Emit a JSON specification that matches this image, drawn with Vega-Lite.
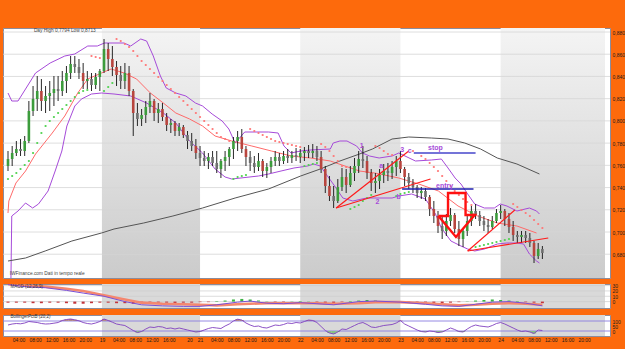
{
"$schema":"https://vega.github.io/schema/vega-lite/v6.json",
"background":"#fd6a0c",
"padding":{"left":2,"top":27,"right":0,"bottom":6},
"spacing":4,
"config":{"view":{"stroke":"#8c8c9c","strokeWidth":1,"fill":"#ffffff"},"font":"Liberation Sans","axis":{"labelFontSize":5,"labelColor":"#202020","ticks":false,"domain":false,"grid":false,"labelPadding":2,"labelOverlap":false,"labelFlush":false,"labelBound":false,"tickCount":200}},
"datasets":{
"bands":[{"a":22.5,"b":46},{"a":70,"b":94},{"a":118,"b":143}],
"pgrid":[{"v":0.68},{"v":0.70},{"v":0.72},{"v":0.74},{"v":0.76},{"v":0.78},{"v":0.80},{"v":0.82},{"v":0.84},{"v":0.86},{"v":0.88}],
"candles":[
{"t":0,"o":0.7594,"h":0.7729,"l":0.7549,"c":0.7657,"s":0.7477},
{"t":1,"o":0.7657,"h":0.7774,"l":0.7594,"c":0.7711,"s":0.7504},
{"t":2,"o":0.7711,"h":0.7819,"l":0.7684,"c":0.7747,"s":0.7531},
{"t":3,"o":0.7747,"h":0.7837,"l":0.7684,"c":0.7729,"s":0.7567},
{"t":4,"o":0.7729,"h":0.7864,"l":0.7684,"c":0.7819,"s":0.7603},
{"t":5,"o":0.7819,"h":0.8179,"l":0.7801,"c":0.8089,"s":0.7639},
{"t":6,"o":0.8089,"h":0.8314,"l":0.8044,"c":0.8197,"s":0.7711},
{"t":7,"o":0.8197,"h":0.8404,"l":0.8089,"c":0.8269,"s":0.7801},
{"t":8,"o":0.8269,"h":0.8377,"l":0.8089,"c":0.8179,"s":0.7891},
{"t":9,"o":0.8179,"h":0.8314,"l":0.8071,"c":0.8224,"s":0.7954},
{"t":10,"o":0.8224,"h":0.8359,"l":0.8089,"c":0.8251,"s":0.7999},
{"t":11,"o":0.8251,"h":0.8404,"l":0.8134,"c":0.8287,"s":0.8035},
{"t":12,"o":0.8287,"h":0.8404,"l":0.8179,"c":0.8269,"s":0.8071},
{"t":13,"o":0.8269,"h":0.8449,"l":0.8224,"c":0.8359,"s":0.8107},
{"t":14,"o":0.8359,"h":0.8494,"l":0.8251,"c":0.8431,"s":0.8143},
{"t":15,"o":0.8431,"h":0.8584,"l":0.8377,"c":0.8512,"s":0.8179},
{"t":16,"o":0.8512,"h":0.8584,"l":0.8431,"c":0.8485,"s":0.8215},
{"t":17,"o":0.8485,"h":0.8557,"l":0.8377,"c":0.8431,"s":0.8251},
{"t":18,"o":0.8431,"h":0.8521,"l":0.8287,"c":0.8359,"s":0.8269},
{"t":19,"o":0.8359,"h":0.8449,"l":0.8287,"c":0.8377,"s":0.8278},
{"t":20,"o":0.8377,"h":0.8431,"l":0.8269,"c":0.8323,"s":0.8584},
{"t":21,"o":0.8323,"h":0.8431,"l":0.8287,"c":0.8395,"s":0.8575},
{"t":22,"o":0.8395,"h":0.8467,"l":0.8269,"c":0.8449,"s":0.8566},
{"t":23,"o":0.8449,"h":0.8737,"l":0.8431,"c":0.8647,"s":0.8269},
{"t":24,"o":0.8647,"h":0.8701,"l":0.8449,"c":0.8557,"s":0.8305},
{"t":25,"o":0.8557,"h":0.8674,"l":0.8404,"c":0.8485,"s":0.8341},
{"t":26,"o":0.8485,"h":0.8539,"l":0.8314,"c":0.8413,"s":0.8737},
{"t":27,"o":0.8413,"h":0.8494,"l":0.8287,"c":0.8359,"s":0.8719},
{"t":28,"o":0.8359,"h":0.8521,"l":0.8287,"c":0.8431,"s":0.8692},
{"t":29,"o":0.8431,"h":0.8494,"l":0.8224,"c":0.8269,"s":0.8665},
{"t":30,"o":0.8269,"h":0.8287,"l":0.7864,"c":0.8071,"s":0.8629},
{"t":31,"o":0.8071,"h":0.8161,"l":0.7954,"c":0.8017,"s":0.8584},
{"t":32,"o":0.8017,"h":0.8107,"l":0.7954,"c":0.8053,"s":0.8539},
{"t":33,"o":0.8053,"h":0.8179,"l":0.7981,"c":0.8125,"s":0.8503},
{"t":34,"o":0.8125,"h":0.8251,"l":0.8071,"c":0.8179,"s":0.8467},
{"t":35,"o":0.8179,"h":0.8197,"l":0.7999,"c":0.8071,"s":0.8431},
{"t":36,"o":0.8071,"h":0.8161,"l":0.7981,"c":0.8107,"s":0.8395},
{"t":37,"o":0.8107,"h":0.8161,"l":0.7999,"c":0.8035,"s":0.8359},
{"t":38,"o":0.8035,"h":0.8071,"l":0.7909,"c":0.7963,"s":0.8323},
{"t":39,"o":0.7963,"h":0.8017,"l":0.7891,"c":0.7981,"s":0.8287},
{"t":40,"o":0.7981,"h":0.7999,"l":0.7864,"c":0.7909,"s":0.8251},
{"t":41,"o":0.7909,"h":0.7981,"l":0.7864,"c":0.7945,"s":0.8215},
{"t":42,"o":0.7945,"h":0.7963,"l":0.7846,"c":0.7873,"s":0.8179},
{"t":43,"o":0.7873,"h":0.7909,"l":0.7747,"c":0.7819,"s":0.8143},
{"t":44,"o":0.7819,"h":0.7891,"l":0.7729,"c":0.7774,"s":0.8107},
{"t":45,"o":0.7774,"h":0.7837,"l":0.7657,"c":0.7711,"s":0.8071},
{"t":46,"o":0.7711,"h":0.7774,"l":0.7594,"c":0.7666,"s":0.8035},
{"t":47,"o":0.7666,"h":0.7729,"l":0.7594,"c":0.7639,"s":0.7999},
{"t":48,"o":0.7639,"h":0.7711,"l":0.7567,"c":0.7675,"s":0.7963},
{"t":49,"o":0.7675,"h":0.7729,"l":0.7594,"c":0.7621,"s":0.7927},
{"t":50,"o":0.7621,"h":0.7729,"l":0.7531,"c":0.7567,"s":0.7891},
{"t":51,"o":0.7567,"h":0.7657,"l":0.7486,"c":0.7639,"s":0.7855},
{"t":52,"o":0.7639,"h":0.7729,"l":0.7549,"c":0.7675,"s":0.7837},
{"t":53,"o":0.7675,"h":0.7765,"l":0.7594,"c":0.7747,"s":0.7819},
{"t":54,"o":0.7747,"h":0.7855,"l":0.7657,"c":0.7819,"s":0.7477},
{"t":55,"o":0.7819,"h":0.7909,"l":0.7729,"c":0.7855,"s":0.7495},
{"t":56,"o":0.7855,"h":0.7927,"l":0.7711,"c":0.7747,"s":0.7504},
{"t":57,"o":0.7747,"h":0.7774,"l":0.7594,"c":0.7675,"s":0.7513},
{"t":58,"o":0.7675,"h":0.7729,"l":0.7549,"c":0.7621,"s":0.7927},
{"t":59,"o":0.7621,"h":0.7684,"l":0.7531,"c":0.7585,"s":0.7909},
{"t":60,"o":0.7585,"h":0.7711,"l":0.7549,"c":0.7639,"s":0.7891},
{"t":61,"o":0.7639,"h":0.7657,"l":0.7495,"c":0.7549,"s":0.7873},
{"t":62,"o":0.7549,"h":0.7621,"l":0.7486,"c":0.7585,"s":0.7855},
{"t":63,"o":0.7585,"h":0.7675,"l":0.7531,"c":0.7639,"s":0.7837},
{"t":64,"o":0.7639,"h":0.7729,"l":0.7594,"c":0.7675,"s":0.7819},
{"t":65,"o":0.7675,"h":0.7711,"l":0.7594,"c":0.7639,"s":0.7810},
{"t":66,"o":0.7639,"h":0.7729,"l":0.7612,"c":0.7684,"s":0.7801},
{"t":67,"o":0.7684,"h":0.7747,"l":0.7621,"c":0.7666,"s":0.7792},
{"t":68,"o":0.7666,"h":0.7729,"l":0.7621,"c":0.7693,"s":0.7783},
{"t":69,"o":0.7693,"h":0.7756,"l":0.7639,"c":0.7675,"s":0.7774},
{"t":70,"o":0.7675,"h":0.7747,"l":0.7621,"c":0.7711,"s":0.7765},
{"t":71,"o":0.7711,"h":0.7765,"l":0.7639,"c":0.7729,"s":0.7594},
{"t":72,"o":0.7729,"h":0.7783,"l":0.7666,"c":0.7711,"s":0.7603},
{"t":73,"o":0.7711,"h":0.7792,"l":0.7666,"c":0.7729,"s":0.7612},
{"t":74,"o":0.7729,"h":0.7774,"l":0.7639,"c":0.7675,"s":0.7621},
{"t":75,"o":0.7675,"h":0.7729,"l":0.7531,"c":0.7567,"s":0.7792},
{"t":76,"o":0.7567,"h":0.7594,"l":0.7351,"c":0.7414,"s":0.7765},
{"t":77,"o":0.7414,"h":0.7504,"l":0.7279,"c":0.7324,"s":0.7729},
{"t":78,"o":0.7324,"h":0.7414,"l":0.7216,"c":0.7279,"s":0.7684},
{"t":79,"o":0.7279,"h":0.7477,"l":0.7261,"c":0.7405,"s":0.7639},
{"t":80,"o":0.7405,"h":0.7576,"l":0.7369,"c":0.7495,"s":0.7594},
{"t":81,"o":0.7495,"h":0.7567,"l":0.7351,"c":0.7423,"s":0.7585},
{"t":82,"o":0.7423,"h":0.7594,"l":0.7405,"c":0.7531,"s":0.7207},
{"t":83,"o":0.7531,"h":0.7666,"l":0.7459,"c":0.7594,"s":0.7225},
{"t":84,"o":0.7594,"h":0.7729,"l":0.7531,"c":0.7657,"s":0.7243},
{"t":85,"o":0.7657,"h":0.7774,"l":0.7576,"c":0.7639,"s":0.7279},
{"t":86,"o":0.7639,"h":0.7684,"l":0.7477,"c":0.7531,"s":0.7306},
{"t":87,"o":0.7531,"h":0.7567,"l":0.7369,"c":0.7441,"s":0.7333},
{"t":88,"o":0.7441,"h":0.7531,"l":0.7351,"c":0.7459,"s":0.7774},
{"t":89,"o":0.7459,"h":0.7567,"l":0.7387,"c":0.7513,"s":0.7756},
{"t":90,"o":0.7513,"h":0.7612,"l":0.7441,"c":0.7549,"s":0.7729},
{"t":91,"o":0.7549,"h":0.7621,"l":0.7459,"c":0.7531,"s":0.7702},
{"t":92,"o":0.7531,"h":0.7639,"l":0.7477,"c":0.7585,"s":0.7693},
{"t":93,"o":0.7585,"h":0.7684,"l":0.7504,"c":0.7639,"s":0.7324},
{"t":94,"o":0.7639,"h":0.7729,"l":0.7531,"c":0.7567,"s":0.7342},
{"t":95,"o":0.7567,"h":0.7585,"l":0.7414,"c":0.7495,"s":0.7351},
{"t":96,"o":0.7495,"h":0.7531,"l":0.7387,"c":0.7441,"s":0.7360},
{"t":97,"o":0.7441,"h":0.7477,"l":0.7351,"c":0.7405,"s":0.7729},
{"t":98,"o":0.7405,"h":0.7423,"l":0.7306,"c":0.7351,"s":0.7711},
{"t":99,"o":0.7351,"h":0.7405,"l":0.7297,"c":0.7369,"s":0.7684},
{"t":100,"o":0.7369,"h":0.7396,"l":0.7279,"c":0.7315,"s":0.7657},
{"t":101,"o":0.7315,"h":0.7333,"l":0.7144,"c":0.7207,"s":0.7621},
{"t":102,"o":0.7207,"h":0.7279,"l":0.7081,"c":0.7144,"s":0.7585},
{"t":103,"o":0.7144,"h":0.7189,"l":0.6991,"c":0.7054,"s":0.7549},
{"t":104,"o":0.7054,"h":0.7144,"l":0.6937,"c":0.7009,"s":0.7504},
{"t":105,"o":0.7009,"h":0.7162,"l":0.6964,"c":0.7099,"s":0.7459},
{"t":106,"o":0.7099,"h":0.7216,"l":0.7054,"c":0.7153,"s":0.7414},
{"t":107,"o":0.7153,"h":0.7171,"l":0.6991,"c":0.7027,"s":0.7369},
{"t":108,"o":0.7027,"h":0.7099,"l":0.6874,"c":0.6937,"s":0.7333},
{"t":109,"o":0.6937,"h":0.7027,"l":0.6865,"c":0.7009,"s":0.7297},
{"t":110,"o":0.7009,"h":0.7144,"l":0.6964,"c":0.7099,"s":0.7270},
{"t":111,"o":0.7099,"h":0.7234,"l":0.7054,"c":0.7189,"s":0.7243},
{"t":112,"o":0.7189,"h":0.7252,"l":0.7117,"c":0.7153,"s":0.6865},
{"t":113,"o":0.7153,"h":0.7189,"l":0.7054,"c":0.7099,"s":0.6874},
{"t":114,"o":0.7099,"h":0.7144,"l":0.7009,"c":0.7063,"s":0.6883},
{"t":115,"o":0.7063,"h":0.7117,"l":0.6991,"c":0.7045,"s":0.6892},
{"t":116,"o":0.7045,"h":0.7144,"l":0.7027,"c":0.7099,"s":0.6901},
{"t":117,"o":0.7099,"h":0.7207,"l":0.7081,"c":0.7171,"s":0.6910},
{"t":118,"o":0.7171,"h":0.7243,"l":0.7117,"c":0.7189,"s":0.6919},
{"t":119,"o":0.7189,"h":0.7207,"l":0.7054,"c":0.7117,"s":0.6928},
{"t":120,"o":0.7117,"h":0.7171,"l":0.6991,"c":0.7045,"s":0.6937},
{"t":121,"o":0.7045,"h":0.7099,"l":0.6919,"c":0.6973,"s":0.7252},
{"t":122,"o":0.6973,"h":0.7009,"l":0.6901,"c":0.6955,"s":0.7225},
{"t":123,"o":0.6955,"h":0.7009,"l":0.6901,"c":0.6973,"s":0.7198},
{"t":124,"o":0.6973,"h":0.7009,"l":0.6901,"c":0.6946,"s":0.7171},
{"t":125,"o":0.6946,"h":0.6991,"l":0.6865,"c":0.6901,"s":0.7144},
{"t":126,"o":0.6901,"h":0.6919,"l":0.6721,"c":0.6784,"s":0.7108},
{"t":127,"o":0.6784,"h":0.6901,"l":0.6757,"c":0.6847,"s":0.7072},
{"t":128,"o":0.6847,"h":0.6874,"l":0.6757,"c":0.6811,"s":0.7036}
],
"lines":[
{"s":"u","t":0,"v":0.8251},{"s":"u","t":0.9,"v":0.8179},{"s":"u","t":2.4,"v":0.8179},{"s":"u","t":4.2,"v":0.8287},{"s":"u","t":6.6,"v":0.8431},{"s":"u","t":10.1,"v":0.8521},{"s":"u","t":13.6,"v":0.8584},{"s":"u","t":16,"v":0.8602},{"s":"u","t":19.1,"v":0.8674},{"s":"u","t":21.4,"v":0.8674},{"s":"u","t":23.1,"v":0.8701},{"s":"u","t":27.8,"v":0.8701},{"s":"u","t":29.4,"v":0.8674},{"s":"u","t":31.8,"v":0.8737},{"s":"u","t":33.2,"v":0.8719},{"s":"u","t":34.8,"v":0.8584},{"s":"u","t":36.5,"v":0.8404},{"s":"u","t":37.9,"v":0.8296},{"s":"u","t":40.2,"v":0.8251},{"s":"u","t":42.6,"v":0.8224},{"s":"u","t":44.9,"v":0.8161},{"s":"u","t":46.6,"v":0.8134},{"s":"u","t":48.9,"v":0.8062},{"s":"u","t":51.3,"v":0.7999},{"s":"u","t":52.9,"v":0.7927},{"s":"u","t":54.4,"v":0.7801},{"s":"u","t":56.7,"v":0.79},{"s":"u","t":62.4,"v":0.79},{"s":"u","t":64.7,"v":0.7891},{"s":"u","t":66.1,"v":0.7774},{"s":"u","t":67.8,"v":0.7711},{"s":"u","t":70.1,"v":0.7729},{"s":"u","t":72.5,"v":0.7738},{"s":"u","t":77.2,"v":0.7747},{"s":"u","t":77.9,"v":0.7801},{"s":"u","t":79.5,"v":0.7819},{"s":"u","t":81.2,"v":0.7819},{"s":"u","t":83.5,"v":0.7774},{"s":"u","t":84.9,"v":0.7711},{"s":"u","t":86.6,"v":0.7684},{"s":"u","t":88.9,"v":0.7666},{"s":"u","t":92,"v":0.7684},{"s":"u","t":93.6,"v":0.7711},{"s":"u","t":97.6,"v":0.7639},{"s":"u","t":101.4,"v":0.7648},{"s":"u","t":103.8,"v":0.7657},{"s":"u","t":105.4,"v":0.7576},{"s":"u","t":107.1,"v":0.7486},{"s":"u","t":108.5,"v":0.7432},{"s":"u","t":110.1,"v":0.7342},{"s":"u","t":111.8,"v":0.7252},{"s":"u","t":114.1,"v":0.7216},{"s":"u","t":116.5,"v":0.7216},{"s":"u","t":117.9,"v":0.7252},{"s":"u","t":119.5,"v":0.7234},{"s":"u","t":121.9,"v":0.7189},{"s":"u","t":124.9,"v":0.7216},{"s":"u","t":126.6,"v":0.7189},{"s":"u","t":127.3,"v":0.7162},
{"s":"l","t":0.7,"v":0.6577},{"s":"l","t":0.9,"v":0.7144},{"s":"l","t":2.4,"v":0.7189},{"s":"l","t":4.2,"v":0.7261},{"s":"l","t":5.9,"v":0.7216},{"s":"l","t":7.3,"v":0.7252},{"s":"l","t":9.6,"v":0.7369},{"s":"l","t":11.3,"v":0.7549},{"s":"l","t":12.9,"v":0.7729},{"s":"l","t":14.1,"v":0.7954},{"s":"l","t":16,"v":0.8134},{"s":"l","t":17.6,"v":0.8197},{"s":"l","t":20,"v":0.8242},{"s":"l","t":22.4,"v":0.8251},{"s":"l","t":25.4,"v":0.8242},{"s":"l","t":29.4,"v":0.8224},{"s":"l","t":33.2,"v":0.8161},{"s":"l","t":37.2,"v":0.8071},{"s":"l","t":40.2,"v":0.7981},{"s":"l","t":43.5,"v":0.7819},{"s":"l","t":46.6,"v":0.7711},{"s":"l","t":49.6,"v":0.7567},{"s":"l","t":52,"v":0.7495},{"s":"l","t":53.6,"v":0.7477},{"s":"l","t":60,"v":0.7504},{"s":"l","t":62.4,"v":0.7522},{"s":"l","t":65.4,"v":0.7549},{"s":"l","t":68.5,"v":0.7576},{"s":"l","t":71.8,"v":0.7594},{"s":"l","t":73.2,"v":0.7612},{"s":"l","t":74.8,"v":0.7594},{"s":"l","t":77.9,"v":0.7432},{"s":"l","t":80.2,"v":0.7306},{"s":"l","t":82.6,"v":0.7279},{"s":"l","t":85.9,"v":0.7306},{"s":"l","t":88.9,"v":0.7306},{"s":"l","t":92,"v":0.7306},{"s":"l","t":93.6,"v":0.7324},{"s":"l","t":96.7,"v":0.7342},{"s":"l","t":100,"v":0.7297},{"s":"l","t":102.4,"v":0.7162},{"s":"l","t":103.8,"v":0.7036},{"s":"l","t":106.1,"v":0.6919},{"s":"l","t":108.5,"v":0.6874},{"s":"l","t":110.1,"v":0.6847},{"s":"l","t":111.8,"v":0.6829},{"s":"l","t":114.1,"v":0.6847},{"s":"l","t":117.2,"v":0.6892},{"s":"l","t":119.5,"v":0.6901},{"s":"l","t":121.9,"v":0.6901},{"s":"l","t":123.5,"v":0.6892},{"s":"l","t":124.9,"v":0.6802},{"s":"l","t":126.6,"v":0.6739},{"s":"l","t":127.3,"v":0.6721},
{"s":"m","t":0,"v":0.7171},{"s":"m","t":0.2,"v":0.7279},{"s":"m","t":1.9,"v":0.7441},{"s":"m","t":4.2,"v":0.7549},{"s":"m","t":6.6,"v":0.7702},{"s":"m","t":10.6,"v":0.7891},{"s":"m","t":13.6,"v":0.8044},{"s":"m","t":16.7,"v":0.8251},{"s":"m","t":19.1,"v":0.8377},{"s":"m","t":22.4,"v":0.8431},{"s":"m","t":24.7,"v":0.8467},{"s":"m","t":27.8,"v":0.8431},{"s":"m","t":30.8,"v":0.8377},{"s":"m","t":34.1,"v":0.8251},{"s":"m","t":37.2,"v":0.8161},{"s":"m","t":40.2,"v":0.8071},{"s":"m","t":43.5,"v":0.8017},{"s":"m","t":46.6,"v":0.7954},{"s":"m","t":49.6,"v":0.7864},{"s":"m","t":53.6,"v":0.7819},{"s":"m","t":58.4,"v":0.7774},{"s":"m","t":63.1,"v":0.7729},{"s":"m","t":67.8,"v":0.7684},{"s":"m","t":72.5,"v":0.7666},{"s":"m","t":77.2,"v":0.7639},{"s":"m","t":80.7,"v":0.7594},{"s":"m","t":84.2,"v":0.7549},{"s":"m","t":87.8,"v":0.7531},{"s":"m","t":91.3,"v":0.7504},{"s":"m","t":93.6,"v":0.7486},{"s":"m","t":98.4,"v":0.7432},{"s":"m","t":103.1,"v":0.7369},{"s":"m","t":107.8,"v":0.7234},{"s":"m","t":112.5,"v":0.7144},{"s":"m","t":117.2,"v":0.7081},{"s":"m","t":121.9,"v":0.7054},{"s":"m","t":126.6,"v":0.6991},
{"s":"a","t":0,"v":0.6739},{"s":"a","t":4.2,"v":0.6766},{"s":"a","t":8.9,"v":0.6829},{"s":"a","t":15.3,"v":0.6919},{"s":"a","t":22.4,"v":0.6991},{"s":"a","t":25.4,"v":0.7027},{"s":"a","t":32.5,"v":0.7081},{"s":"a","t":39.5,"v":0.7144},{"s":"a","t":46.6,"v":0.7216},{"s":"a","t":54.4,"v":0.7306},{"s":"a","t":62.4,"v":0.7387},{"s":"a","t":70.1,"v":0.7504},{"s":"a","t":74.8,"v":0.7567},{"s":"a","t":79.5,"v":0.7639},{"s":"a","t":84.2,"v":0.7702},{"s":"a","t":87.3,"v":0.7747},{"s":"a","t":92,"v":0.7837},{"s":"a","t":96,"v":0.7855},{"s":"a","t":101.4,"v":0.7846},{"s":"a","t":105.4,"v":0.7837},{"s":"a","t":109.4,"v":0.7801},{"s":"a","t":113.2,"v":0.7747},{"s":"a","t":117.2,"v":0.7666},{"s":"a","t":121.9,"v":0.7612},{"s":"a","t":127.3,"v":0.7522}
],
"annot":[
{"g":"w1","k":0,"t":78.6,"p":0.7216},{"g":"w1","k":1,"t":96,"p":0.7729},
{"g":"w2","k":0,"t":78.6,"p":0.7216},{"g":"w2","k":1,"t":101.2,"p":0.7477},
{"g":"w3","k":0,"t":110.1,"p":0.6829},{"g":"w3","k":1,"t":121.4,"p":0.7198},
{"g":"w4","k":0,"t":110.1,"p":0.6829},{"g":"w4","k":1,"t":129.4,"p":0.6946},
{"g":"ar","k":0,"t":103.1,"p":0.7144},{"g":"ar","k":1,"t":105.4,"p":0.7144},{"g":"ar","k":2,"t":105.4,"p":0.7351},{"g":"ar","k":3,"t":109.6,"p":0.7351},{"g":"ar","k":4,"t":109.6,"p":0.7153},{"g":"ar","k":5,"t":111.8,"p":0.7153},{"g":"ar","k":6,"t":107.3,"p":0.6955},{"g":"ar","k":7,"t":103.1,"p":0.7144},
{"g":"st","k":0,"t":97.2,"p":0.7711},{"g":"st","k":1,"t":112,"p":0.7711},
{"g":"en","k":0,"t":94.4,"p":0.7387},{"g":"en","k":1,"t":111.5,"p":0.7387}
],
"labels":[
{"t":84.7,"p":0.7774,"txt":"1","k":"r"},{"t":88.5,"p":0.7270,"txt":"2","k":"r"},{"t":94.4,"p":0.7738,"txt":"3","k":"r"},
{"t":89.4,"p":0.7594,"txt":"a","k":"b"},{"t":93.6,"p":0.7315,"txt":"b","k":"b"},{"t":96.2,"p":0.7729,"txt":"c","k":"b"},
{"t":102.4,"p":0.7756,"txt":"stop","k":"r"},{"t":104.6,"p":0.7414,"txt":"entry","k":"r"}
],
"notes":[
{"t":6.2,"p":0.8807,"txt":"Day High 0,7794  Low 0,8713"},
{"t":0.4,"p":0.6625,"txt":"IWFinance.com  Dati in tempo reale"}
],
"macd":[
{"t":0,"m":32,"s":33},{"t":4,"m":28,"s":30},{"t":9,"m":26,"s":28},{"t":14,"m":21,"s":24},{"t":18,"m":16,"s":20},{"t":23,"m":10,"s":12},{"t":28,"m":0,"s":4},{"t":32,"m":-6,"s":-2},{"t":37,"m":-8,"s":-4},{"t":42,"m":-9,"s":-5},{"t":46,"m":-9,"s":-6},{"t":50,"m":-6,"s":-7},{"t":55,"m":-1,"s":-5},{"t":58,"m":1,"s":-4},{"t":62,"m":-3,"s":-3},{"t":66,"m":-4,"s":-3},{"t":70,"m":-2,"s":-3},{"t":74,"m":-4,"s":-3},{"t":78,"m":-6,"s":-4},{"t":84,"m":0,"s":-3},{"t":88,"m":1,"s":-1},{"t":94,"m":-1,"s":-1},{"t":100,"m":-5,"s":-3},{"t":104,"m":-8,"s":-5},{"t":108,"m":-9,"s":-7},{"t":112,"m":-5,"s":-6},{"t":116,"m":-1,"s":-4},{"t":120,"m":0,"s":-3},{"t":124,"m":-3,"s":-4},{"t":128,"m":-8,"s":-6}
],
"hist":[
{"t":0,"h":-2},{"t":2,"h":-2},{"t":4,"h":-2},{"t":6,"h":-3},{"t":8,"h":-3},{"t":10,"h":-2},{"t":12,"h":-2},{"t":14,"h":-3},{"t":16,"h":-4},{"t":18,"h":-4},{"t":20,"h":-3},{"t":22,"h":-2},{"t":24,"h":-2},{"t":26,"h":-3},{"t":28,"h":-3},{"t":30,"h":-4},{"t":32,"h":-3},{"t":34,"h":-3},{"t":36,"h":-2},{"t":38,"h":-2},{"t":40,"h":-3},{"t":42,"h":-2},{"t":44,"h":-2},{"t":46,"h":-1},{"t":48,"h":-1},{"t":50,"h":1},{"t":52,"h":2},{"t":54,"h":4},{"t":56,"h":5},{"t":58,"h":4},{"t":60,"h":2},{"t":62,"h":0.5},{"t":64,"h":-1},{"t":66,"h":-1},{"t":68,"h":0.5},{"t":70,"h":1},{"t":72,"h":0.5},{"t":74,"h":-2},{"t":76,"h":-3},{"t":78,"h":-3},{"t":80,"h":-1},{"t":82,"h":1},{"t":84,"h":2},{"t":86,"h":3},{"t":88,"h":2},{"t":90,"h":0.5},{"t":92,"h":1},{"t":94,"h":0.5},{"t":96,"h":-1},{"t":98,"h":-2},{"t":100,"h":-2},{"t":102,"h":-3},{"t":104,"h":-3},{"t":106,"h":-2},{"t":108,"h":-1},{"t":110,"h":0.5},{"t":112,"h":2},{"t":114,"h":3},{"t":116,"h":4},{"t":118,"h":3},{"t":120,"h":2},{"t":122,"h":1},{"t":124,"h":-1},{"t":126,"h":-2},{"t":128,"h":-3}
],
"pctb":[
{"t":0,"v":60},{"t":1,"v":70},{"t":2,"v":75},{"t":3,"v":72},{"t":4,"v":80},{"t":5,"v":95},{"t":6,"v":90},{"t":7,"v":85},{"t":8,"v":75},{"t":9,"v":70},{"t":10,"v":72},{"t":11,"v":78},{"t":12,"v":85},{"t":13,"v":105},{"t":14,"v":115},{"t":15,"v":120},{"t":16,"v":112},{"t":17,"v":102},{"t":18,"v":85},{"t":19,"v":75},{"t":20,"v":70},{"t":21,"v":80},{"t":22,"v":95},{"t":23,"v":120},{"t":24,"v":105},{"t":25,"v":88},{"t":26,"v":70},{"t":27,"v":62},{"t":28,"v":55},{"t":29,"v":30},{"t":30,"v":5},{"t":31,"v":-15},{"t":32,"v":-5},{"t":33,"v":20},{"t":34,"v":40},{"t":35,"v":35},{"t":36,"v":45},{"t":37,"v":40},{"t":38,"v":25},{"t":39,"v":30},{"t":40,"v":20},{"t":41,"v":30},{"t":42,"v":20},{"t":43,"v":10},{"t":44,"v":0},{"t":45,"v":-10},{"t":46,"v":-5},{"t":47,"v":10},{"t":48,"v":25},{"t":49,"v":35},{"t":50,"v":30},{"t":51,"v":25},{"t":52,"v":50},{"t":53,"v":70},{"t":54,"v":100},{"t":55,"v":118},{"t":56,"v":110},{"t":57,"v":80},{"t":58,"v":60},{"t":59,"v":45},{"t":60,"v":50},{"t":61,"v":35},{"t":62,"v":30},{"t":63,"v":45},{"t":64,"v":60},{"t":65,"v":55},{"t":66,"v":65},{"t":67,"v":80},{"t":68,"v":75},{"t":69,"v":85},{"t":70,"v":80},{"t":71,"v":95},{"t":72,"v":110},{"t":73,"v":105},{"t":74,"v":85},{"t":75,"v":45},{"t":76,"v":5},{"t":77,"v":-20},{"t":78,"v":-30},{"t":79,"v":-10},{"t":80,"v":20},{"t":81,"v":15},{"t":82,"v":35},{"t":83,"v":55},{"t":84,"v":75},{"t":85,"v":85},{"t":86,"v":65},{"t":87,"v":40},{"t":88,"v":35},{"t":89,"v":45},{"t":90,"v":55},{"t":91,"v":60},{"t":92,"v":65},{"t":93,"v":80},{"t":94,"v":105},{"t":95,"v":70},{"t":96,"v":50},{"t":97,"v":30},{"t":98,"v":10},{"t":99,"v":-5},{"t":100,"v":-10},{"t":101,"v":0},{"t":102,"v":-5},{"t":103,"v":-15},{"t":104,"v":-10},{"t":105,"v":10},{"t":106,"v":30},{"t":107,"v":15},{"t":108,"v":-5},{"t":109,"v":-10},{"t":110,"v":20},{"t":111,"v":45},{"t":112,"v":60},{"t":113,"v":50},{"t":114,"v":45},{"t":115,"v":40},{"t":116,"v":55},{"t":117,"v":75},{"t":118,"v":85},{"t":119,"v":70},{"t":120,"v":50},{"t":121,"v":30},{"t":122,"v":10},{"t":123,"v":-5},{"t":124,"v":0},{"t":125,"v":-10},{"t":126,"v":-25},{"t":127,"v":10},{"t":128,"v":5}
]
},
"vconcat":[
{"width":607,"height":250,
"layer":[
{"data":{"name":"bands"},"mark":{"type":"rect","fill":{"gradient":"linear","x1":0,"y1":0,"x2":0,"y2":1,"stops":[{"offset":0,"color":"#f4f4f4"},{"offset":1,"color":"#cbcbcb"}]}},
"encoding":{"x":{"field":"a","type":"quantitative","scale":{"domain":[0,143],"nice":false,"zero":false},"axis":null},"x2":{"field":"b"}}},
{"data":{"name":"pgrid"},"mark":{"type":"rule","color":"#d6d6d6","strokeWidth":0.8},
"encoding":{"y":{"field":"v","type":"quantitative","scale":{"domain":[0.6586,0.8836],"nice":false,"zero":false},"axis":{"orient":"right","title":null,"values":[0.68,0.7,0.72,0.74,0.76,0.78,0.8,0.82,0.84,0.86,0.88],"tickCount":200,"labelExpr":"replace(format(datum.value,'.3f'),'.',',')","labelFontSize":5,"labelColor":"#202020","ticks":false,"domain":false,"grid":false,"labelPadding":2,"labelOverlap":false}}}},
{"data":{"name":"lines"},"mark":{"type":"line","strokeWidth":1,"clip":true},
"encoding":{"x":{"field":"t","type":"quantitative","axis":null},"y":{"field":"v","type":"quantitative"},"color":{"field":"s","type":"nominal","scale":{"domain":["u","l","m","a"],"range":["#a64bd9","#a64bd9","#ff6a6a","#555555"]},"legend":null}}},
{"data":{"name":"candles"},"mark":{"type":"circle","size":5,"opacity":1,"clip":true},
"encoding":{"x":{"field":"t","type":"quantitative","axis":null},"y":{"field":"s","type":"quantitative"},"color":{"condition":{"test":"datum.s>datum.h","value":"#ff7676"},"value":"#4fd24f"}}},
{"data":{"name":"candles"},"mark":{"type":"rule","color":"#111111","strokeWidth":0.9},
"encoding":{"x":{"field":"t","type":"quantitative","axis":null},"y":{"field":"l","type":"quantitative"},"y2":{"field":"h"}}},
{"data":{"name":"candles"},"mark":{"type":"bar","width":2.6},
"encoding":{"x":{"field":"t","type":"quantitative","axis":null},"y":{"field":"o","type":"quantitative"},"y2":{"field":"c"},"color":{"condition":[{"test":"datum.c>datum.o","value":"#3c9c3c"},{"test":"datum.o-datum.c>0.006","value":"#b8453e"}],"value":"#6f6f6f"}}},
{"data":{"name":"annot"},"transform":[{"filter":"datum.g=='w1'||datum.g=='w2'||datum.g=='w3'||datum.g=='w4'"}],"mark":{"type":"line","color":"#ff1a1a","strokeWidth":1.2},
"encoding":{"x":{"field":"t","type":"quantitative","axis":null},"y":{"field":"p","type":"quantitative"},"detail":{"field":"g"},"order":{"field":"k"}}},
{"data":{"name":"annot"},"transform":[{"filter":"datum.g=='ar'"}],"mark":{"type":"line","color":"#ff1010","strokeWidth":2.4,"strokeJoin":"miter"},
"encoding":{"x":{"field":"t","type":"quantitative","axis":null},"y":{"field":"p","type":"quantitative"},"order":{"field":"k"}}},
{"data":{"name":"annot"},"transform":[{"filter":"datum.g=='st'"}],"mark":{"type":"line","color":"#7474d8","strokeWidth":1.8},
"encoding":{"x":{"field":"t","type":"quantitative","axis":null},"y":{"field":"p","type":"quantitative"},"order":{"field":"k"}}},
{"data":{"name":"annot"},"transform":[{"filter":"datum.g=='en'"}],"mark":{"type":"line","color":"#1c1cae","strokeWidth":1.3},
"encoding":{"x":{"field":"t","type":"quantitative","axis":null},"y":{"field":"p","type":"quantitative"},"order":{"field":"k"}}},
{"data":{"name":"labels"},"mark":{"type":"text","fontSize":7,"fontWeight":"bold"},
"encoding":{"x":{"field":"t","type":"quantitative","axis":null},"y":{"field":"p","type":"quantitative"},"text":{"field":"txt"},"color":{"field":"k","type":"nominal","scale":{"domain":["r","b"],"range":["#e80000","#2a3ccc"]},"legend":null}}},
{"data":{"name":"notes"},"mark":{"type":"text","fontSize":4.8,"align":"left","color":"#444444"},
"encoding":{"x":{"field":"t","type":"quantitative","axis":null},"y":{"field":"p","type":"quantitative"},"text":{"field":"txt"}}}
]},
{"width":607,"height":24,
"layer":[
{"data":{"name":"bands"},"mark":{"type":"rect","fill":"#d9d9d9"},
"encoding":{"x":{"field":"a","type":"quantitative","scale":{"domain":[0,143],"nice":false,"zero":false},"axis":null},"x2":{"field":"b"}}},
{"data":{"values":[{"v":0},{"v":10},{"v":20},{"v":30}]},"mark":{"type":"rule","color":"#cccccc","strokeWidth":0.7},
"encoding":{"y":{"field":"v","type":"quantitative","scale":{"domain":[-12,33],"nice":false,"zero":false},"axis":{"orient":"right","title":null,"values":[0,10,20,30],"tickCount":200,"format":"d","labelFontSize":5,"labelColor":"#202020","ticks":false,"domain":false,"grid":false,"labelPadding":2,"labelOverlap":false}}}},
{"data":{"name":"hist"},"mark":{"type":"bar","width":3,"clip":true},
"encoding":{"x":{"field":"t","type":"quantitative","axis":null},"y":{"field":"h","type":"quantitative"},"y2":{"datum":0},"color":{"condition":{"test":"datum.h>0","value":"#3db445"},"value":"#c2343a"}}},
{"data":{"name":"macd"},"mark":{"type":"line","color":"#f4876f","strokeWidth":2.6,"clip":true},
"encoding":{"x":{"field":"t","type":"quantitative","axis":null},"y":{"field":"s","type":"quantitative"}}},
{"data":{"name":"macd"},"mark":{"type":"line","color":"#7a4fd6","strokeWidth":1,"clip":true},
"encoding":{"x":{"field":"t","type":"quantitative","axis":null},"y":{"field":"m","type":"quantitative"}}},
{"data":{"values":[{"t":0.6,"y":27,"txt":"MACD (12,26,9)"}]},"mark":{"type":"text","fontSize":4.5,"align":"left","color":"#333333"},
"encoding":{"x":{"field":"t","type":"quantitative","axis":null},"y":{"field":"y","type":"quantitative"},"text":{"field":"txt"}}}
]},
{"width":607,"height":21,
"layer":[
{"data":{"name":"bands"},"mark":{"type":"rect","fill":"#d9d9d9"},
"encoding":{"x":{"field":"a","type":"quantitative","scale":{"domain":[0,143],"nice":false,"zero":false},
"axis":{"orient":"bottom","title":null,"values":[2.5,6.5,10.5,14.5,18.5,22.5,26.5,30.5,34.5,38.5,43.5,46,50,54,58,62,66,70,74,78,82,86,90,94,98,102,106,110,114,118,122,126,130,134,138],"tickCount":200,"labelExpr":"datum.value==22.5?'19':datum.value==43.5?'20':datum.value==46?'21':datum.value==70?'22':datum.value==94?'23':datum.value==118?'24':format(datum.value<22.5?datum.value+1.5:datum.value<43.5?datum.value-22.5:(datum.value-46)%24,'02d')+':00'","labelFontSize":5,"labelPadding":1,"labelOverlap":false,"labelFlush":false,"labelColor":"#1a1a1a","ticks":false,"domain":false,"grid":false}},"x2":{"field":"b"}}},
{"data":{"values":[{"v":0},{"v":100}]},"mark":{"type":"rule","color":"#8a7ee0","strokeWidth":0.9},
"encoding":{"y":{"field":"v","type":"quantitative","scale":{"domain":[-50,160],"nice":false,"zero":false},"axis":{"orient":"right","title":null,"values":[0,50,100],"tickCount":200,"format":"d","labelFontSize":5,"labelColor":"#202020","ticks":false,"domain":false,"grid":false,"labelPadding":2,"labelOverlap":false}}}},
{"data":{"name":"pctb"},"transform":[{"filter":"datum.v>100"}],"mark":{"type":"bar","width":4.3,"color":"#b48a8a"},
"encoding":{"x":{"field":"t","type":"quantitative"},"y":{"field":"v","type":"quantitative"},"y2":{"datum":100}}},
{"data":{"name":"pctb"},"transform":[{"filter":"datum.v<0"}],"mark":{"type":"bar","width":4.3,"color":"#86c286"},
"encoding":{"x":{"field":"t","type":"quantitative"},"y":{"field":"v","type":"quantitative"},"y2":{"datum":0}}},
{"data":{"name":"pctb"},"mark":{"type":"line","color":"#8040c0","strokeWidth":0.9,"clip":true},
"encoding":{"x":{"field":"t","type":"quantitative"},"y":{"field":"v","type":"quantitative"}}},
{"data":{"values":[{"t":0.6,"y":140,"txt":"BollingerPctB (20,2)"}]},"mark":{"type":"text","fontSize":4.5,"align":"left","color":"#333333"},
"encoding":{"x":{"field":"t","type":"quantitative"},"y":{"field":"y","type":"quantitative"},"text":{"field":"txt"}}}
]}
]
}
